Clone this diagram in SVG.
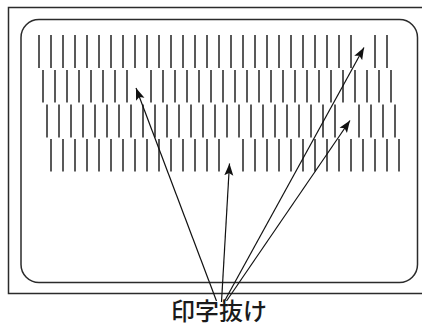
<svg xmlns="http://www.w3.org/2000/svg" width="422" height="326" viewBox="0 0 422 326">
<style>
.frame{fill:none;stroke:#2b2b2b;stroke-width:1.5}
.row{fill:none;stroke:#3d3d3d;stroke-width:1.7}
.arr{fill:none;stroke:#111;stroke-width:1.2}
.lbl{font-family:"Noto Sans CJK JP","Noto Sans",sans-serif;font-size:24px;font-weight:500;fill:#1a1a1a;text-anchor:middle}
</style>
<defs>
<marker id="ah" markerUnits="userSpaceOnUse" markerWidth="13" markerHeight="10" refX="12" refY="4.5" orient="auto" viewBox="0 0 13 9">
<path d="M0,0 L12,4.5 L0,9 L2.5,4.5 Z" fill="#111"/>
</marker>
</defs>
<g id="outer-frame"><path class="frame" d="M423 7.5H8.5V293.5H423"/></g>
<g id="paper"><rect class="frame" x="21" y="19.5" width="396.5" height="263" rx="18" ry="18"/></g>
<g id="print-rows">
<path id="row1" class="row" d="M39 35V68M51 35V68M63 35V68M75 35V68M87 35V68M99 35V68M111 35V68M123 35V68M135 35V68M147 35V68M159 35V68M171 35V68M183 35V68M195 35V68M207 35V68M219 35V68M231 35V68M243 35V68M255 35V68M267 35V68M279 35V68M291 35V68M303 35V68M315 35V68M327 35V68M339 35V68M351 35V68M375 35V68M387 35V68"/>
<path id="row2" class="row" d="M43 70V102.5M55 70V102.5M67 70V102.5M79 70V102.5M91 70V102.5M103 70V102.5M115 70V102.5M127 70V102.5M151 70V102.5M163 70V102.5M175 70V102.5M187 70V102.5M199 70V102.5M211 70V102.5M223 70V102.5M235 70V102.5M247 70V102.5M259 70V102.5M271 70V102.5M283 70V102.5M295 70V102.5M307 70V102.5M319 70V102.5M331 70V102.5M343 70V102.5M355 70V102.5M367 70V102.5M379 70V102.5M391 70V102.5"/>
<path id="row3" class="row" d="M47 104.5V137.5M59 104.5V137.5M71 104.5V137.5M83 104.5V137.5M95 104.5V137.5M107 104.5V137.5M119 104.5V137.5M131 104.5V137.5M143 104.5V137.5M155 104.5V137.5M167 104.5V137.5M179 104.5V137.5M191 104.5V137.5M203 104.5V137.5M215 104.5V137.5M227 104.5V137.5M239 104.5V137.5M251 104.5V137.5M263 104.5V137.5M275 104.5V137.5M287 104.5V137.5M299 104.5V137.5M311 104.5V137.5M323 104.5V137.5M335 104.5V137.5M359 104.5V137.5M371 104.5V137.5M383 104.5V137.5M395 104.5V137.5"/>
<path id="row4" class="row" d="M51 139V171.5M63 139V171.5M75 139V171.5M87 139V171.5M99 139V171.5M111 139V171.5M123 139V171.5M135 139V171.5M147 139V171.5M159 139V171.5M171 139V171.5M183 139V171.5M195 139V171.5M207 139V171.5M219 139V171.5M243 139V171.5M255 139V171.5M267 139V171.5M279 139V171.5M291 139V171.5M303 139V171.5M315 139V171.5M327 139V171.5M339 139V171.5M351 139V171.5M363 139V171.5M375 139V171.5M387 139V171.5M399 139V171.5"/>
</g>
<g id="connectors">
<line class="arr" x1="216.5" y1="301" x2="136" y2="88" marker-end="url(#ah)"/>
<line class="arr" x1="221.5" y1="302" x2="229.5" y2="163.5" marker-end="url(#ah)"/>
<line class="arr" x1="224" y1="302" x2="364" y2="47.5" marker-end="url(#ah)"/>
<line class="arr" x1="226.5" y1="301" x2="350" y2="120.5" marker-end="url(#ah)"/>
</g>
<g id="label"><text class="lbl" x="219" y="320">印字抜け</text></g>
</svg>
